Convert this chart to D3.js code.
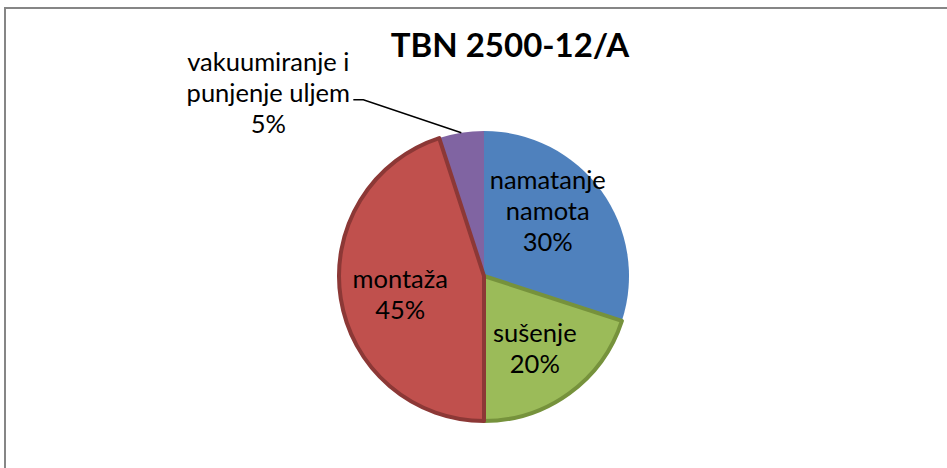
<!DOCTYPE html>
<html>
<head>
<meta charset="utf-8">
<script src="https://cdn.jsdelivr.net/npm/d3@7"></script>
<style>
  html, body { margin: 0; padding: 0; background: #fff; }
  svg text { font-family: Lato, "Open Sans", sans-serif; fill: #000; }
</style>
</head>
<body>
<div id="chart"></div>
<script>
const WIDTH = 947
const HEIGHT = 468
const CENTER = { X: 484, Y: 276 }
const RADIUS = 145
const LINE_H = 31

const TITLE = "TBN 2500-12/A"
const categories = ["namatanje namota", "sušenje", "montaža", "vakuumiranje i punjenje uljem"]
const values = [30, 20, 45, 5]
// how each label is broken into lines
const labelLines = [["namatanje", "namota"], ["sušenje"], ["montaža"], ["vakuumiranje i", "punjenje uljem"]]

const fills = ["#4F81BD", "#9BBB59", "#C0504D", "#8064A2"]
const strokes = ["none", "#76923C", "#8C3836", "none"]
const drawOrder = [0, 3, 1, 2]
// "best fit" placement nudges, px
const NUDGE = [[-9, -12], [-2, 0], [5, 4], [0, 0]]

const data = categories.map((c, i) => ({ name: c, value: values[i], lines: labelLines[i], idx: i }))
const total = d3.sum(values)

const svg = d3.select("#chart")
              .append("svg")
              .attr("width", WIDTH)
              .attr("height", HEIGHT)

// chart frame (cut at right and bottom like the source)
svg.append("rect")
   .attr("x", 5)
   .attr("y", 8)
   .attr("width", WIDTH + 20)
   .attr("height", HEIGHT + 20)
   .attr("fill", "none")
   .attr("stroke", "#868686")
   .attr("stroke-width", 2)

svg.append("text")
   .attr("x", 510)
   .attr("y", 57)
   .attr("text-anchor", "middle")
   .attr("font-weight", "bold")
   .attr("font-size", 33)
   .text(TITLE)

const pie = d3.pie()
              .sort(null)
              .value(d => d.value)

const arcs = pie(data)
const arc = d3.arc().innerRadius(0).outerRadius(RADIUS)
const labelArc = d3.arc().innerRadius(RADIUS * 0.62).outerRadius(RADIUS * 0.62)

const g = svg.append("g")
             .attr("transform", `translate(${CENTER.X}, ${CENTER.Y})`)

g.selectAll("path")
 .data(drawOrder.map(i => arcs[i]))
 .enter()
 .append("path")
 .attr("d", arc)
 .attr("fill", d => fills[d.data.idx])
 .attr("stroke", d => strokes[d.data.idx])
 .attr("stroke-width", 4)
 .attr("stroke-linejoin", "round")

const fmt = d => Math.round(d.value / total * 100) + "%"

// inside labels
const inside = arcs.filter(d => d.value / total >= 0.1)
inside.forEach(d => {
  const c = labelArc.centroid(d)
  const cx = c[0] + NUDGE[d.data.idx][0]
  const cy = c[1] + NUDGE[d.data.idx][1]
  const lines = d.data.lines.concat([fmt(d)])
  const top = cy - (lines.length - 1) / 2 * LINE_H + 9
  const t = g.append("text")
             .attr("text-anchor", "middle")
             .attr("font-size", 25.5)
  lines.forEach((l, k) => {
    t.append("tspan")
     .attr("x", cx)
     .attr("y", top + k * LINE_H)
     .text(l)
  })
})

// outside label with leader line
const outside = arcs.filter(d => d.value / total < 0.1)
outside.forEach(d => {
  const mid = (d.startAngle + d.endAngle) / 2
  const edge = [RADIUS * Math.sin(mid), -RADIUS * Math.cos(mid)]
  const elbow = [edge[0] - 98, edge[1] - 33]
  const end = [elbow[0] - 10, elbow[1]]
  g.append("polyline")
   .attr("points", [edge, elbow, end].map(p => p.join(",")).join(" "))
   .attr("fill", "none")
   .attr("stroke", "#000")
   .attr("stroke-width", 1.5)

  const lines = d.data.lines.concat([fmt(d)])
  const lx = end[0] - 85
  const t = g.append("text")
             .attr("text-anchor", "middle")
             .attr("font-size", 25.5)
  lines.forEach((l, k) => {
    t.append("tspan")
     .attr("x", lx)
     .attr("y", end[1] - LINE_H + 2 + k * LINE_H)
     .text(l)
  })
})
</script>
</body>
</html>
